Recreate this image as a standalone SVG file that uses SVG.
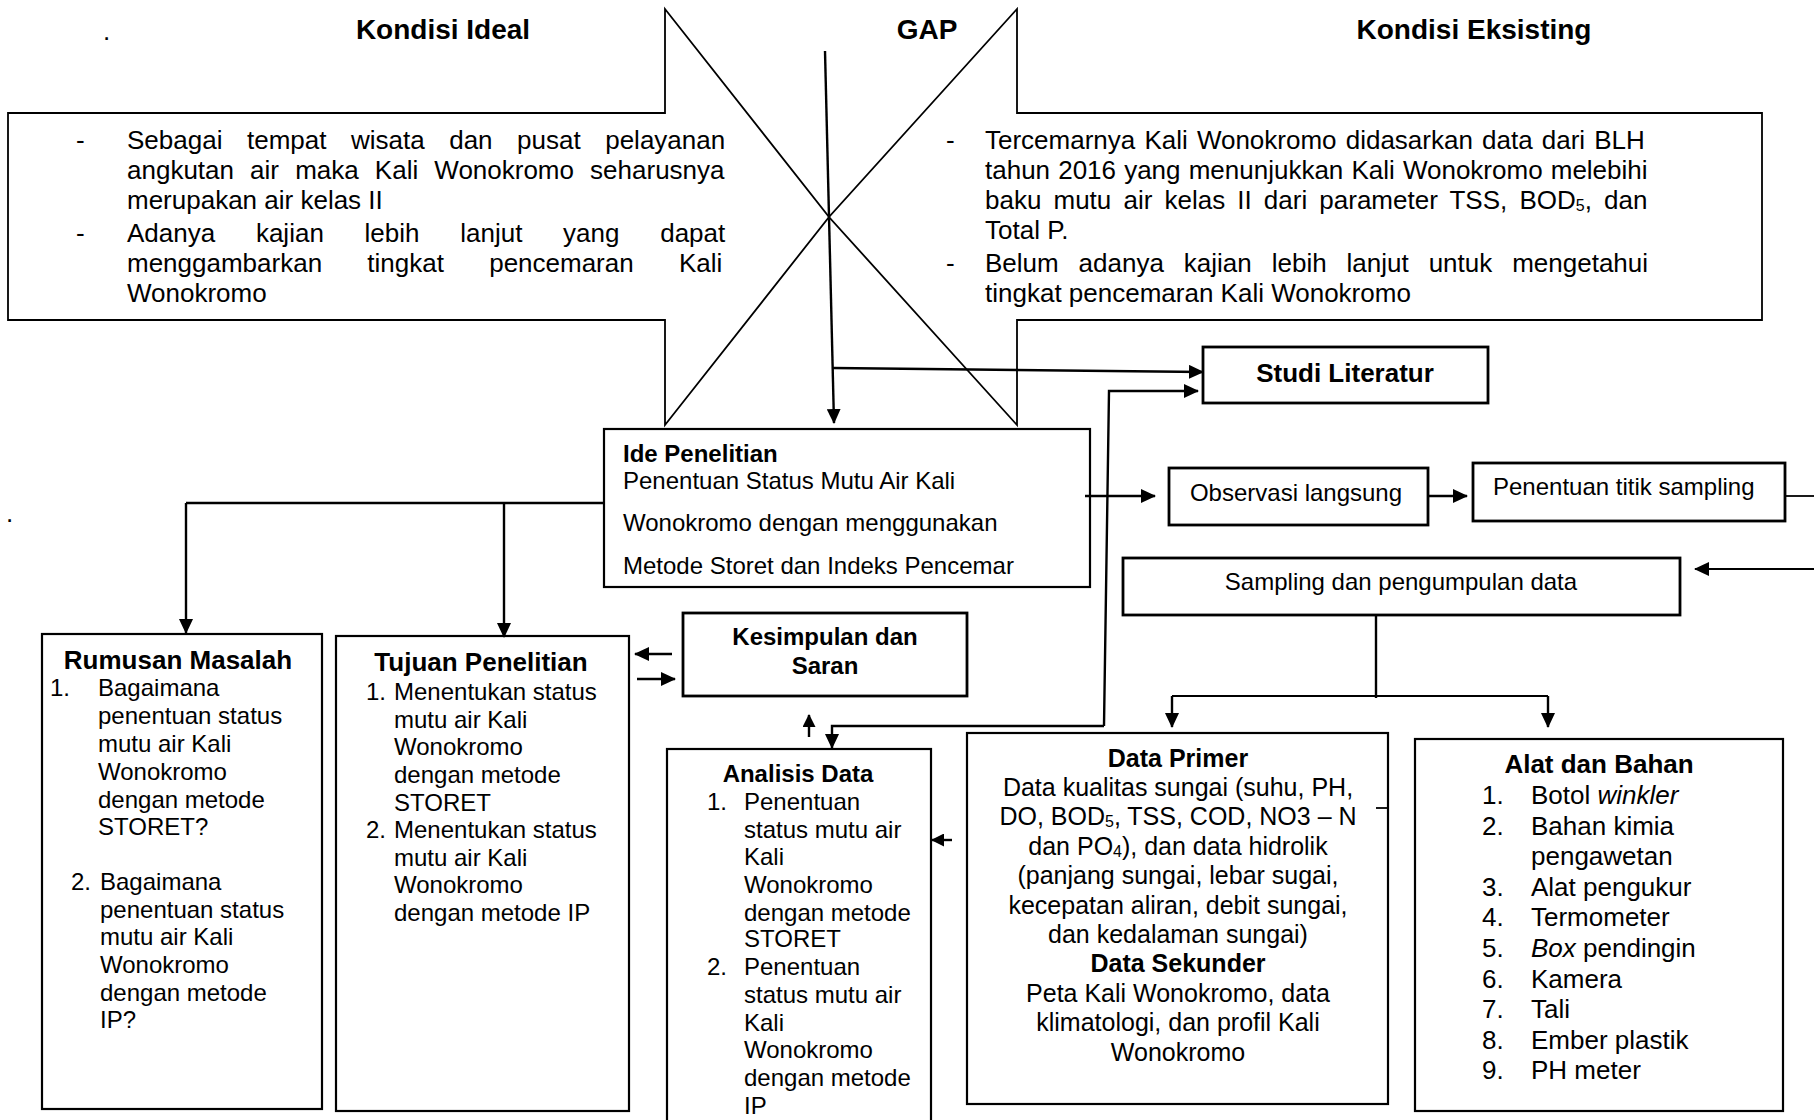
<svg xmlns="http://www.w3.org/2000/svg" width="1814" height="1120" viewBox="0 0 1814 1120">
<defs>
<style>
text{font-family:"Liberation Sans",Arial,Helvetica,sans-serif;fill:#000}
.b{font-weight:bold}
.f24{font-size:24px}.f25{font-size:25px}.f26{font-size:26px}.f28{font-size:28px}
.c{text-anchor:middle}
.box{fill:#fff;stroke:#000;stroke-width:2.2}
.thick{stroke-width:2.8}
.shape{fill:none;stroke:#000;stroke-width:1.8;stroke-linejoin:miter}
.con{fill:none;stroke:#000;stroke-width:2.4}
.thin{stroke-width:1.8}
.arr{marker-end:url(#ah)}
.arrs{marker-end:url(#ahs)}
.sub{font-size:16px}
</style>
<marker id="ah" viewBox="0 0 15 14" refX="14" refY="7" markerWidth="15" markerHeight="14" markerUnits="userSpaceOnUse" orient="auto"><path d="M0,0 L15,7 L0,14 Z" fill="#000"/></marker>
<marker id="ahs" viewBox="0 0 13 13" refX="12" refY="6.5" markerWidth="13" markerHeight="13" markerUnits="userSpaceOnUse" orient="auto"><path d="M0,0 L13,6.5 L0,13 Z" fill="#000"/></marker>
</defs>
<rect width="1814" height="1120" fill="#fff"/>

<text class="f26" x="103" y="40">.</text>
<text class="f26" x="6" y="522">.</text>

<g id="kondisi-ideal">
<path class="shape" d="M665,9 L665,113 L8,113 L8,320 L665,320 L665,425 L829,217 Z"/>
<text class="f28 b c" x="443" y="39">Kondisi Ideal</text>
<text class="f26" x="76" y="149">-</text>
<text class="f26" x="127" y="149" word-spacing="17.3">Sebagai tempat wisata dan pusat pelayanan</text>
<text class="f26" x="127" y="179" word-spacing="8.9">angkutan air maka Kali Wonokromo seharusnya</text>
<text class="f26" x="127" y="209">merupakan air kelas II</text>
<text class="f26" x="76" y="242">-</text>
<text class="f26" x="127" y="242" word-spacing="33.5">Adanya kajian lebih lanjut yang dapat</text>
<text class="f26" x="127" y="272" word-spacing="38">menggambarkan tingkat pencemaran Kali</text>
<text class="f26" x="127" y="302">Wonokromo</text>
</g>

<g id="gap">
<text class="f28 b c" x="927" y="39">GAP</text>
</g>

<g id="kondisi-eksisting">
<path class="shape" d="M1017,9 L1017,113 L1762,113 L1762,320 L1017,320 L1017,425 L829,217 Z"/>
<text class="f28 b c" x="1474" y="39">Kondisi Eksisting</text>
<text class="f26" x="946" y="149">-</text>
<text class="f26" x="985" y="149" word-spacing="1.9">Tercemarnya Kali Wonokromo didasarkan data dari BLH</text>
<text class="f26" x="985" y="179" word-spacing="0.9">tahun 2016 yang menunjukkan Kali Wonokromo melebihi</text>
<text class="f26" x="985" y="209" word-spacing="4.9">baku mutu air kelas II dari parameter TSS, BOD<tspan class="sub" dy="2">5</tspan><tspan dy="-2">, dan</tspan></text>
<text class="f26" x="985" y="239">Total P.</text>
<text class="f26" x="946" y="272">-</text>
<text class="f26" x="985" y="272" word-spacing="12.7">Belum adanya kajian lebih lanjut untuk mengetahui</text>
<text class="f26" x="985" y="302">tingkat pencemaran Kali Wonokromo</text>
</g>

<g id="ide-penelitian">
<rect class="box" x="604" y="429" width="486" height="158"/>
<text class="f24 b" x="623" y="462">Ide Penelitian</text>
<text class="f24" x="623" y="489">Penentuan Status Mutu Air Kali</text>
<text class="f24" x="623" y="531">Wonokromo dengan menggunakan</text>
<text class="f24" x="623" y="574">Metode Storet dan Indeks Pencemar</text>
</g>

<g id="studi-literatur">
<rect class="box thick" x="1203" y="347" width="285" height="56"/>
<text class="f26 b c" x="1345" y="382">Studi Literatur</text>
</g>

<g id="observasi-langsung">
<rect class="box thick" x="1169" y="468" width="259" height="57"/>
<text class="f24 c" x="1296" y="501">Observasi langsung</text>
</g>

<g id="penentuan-titik-sampling">
<rect class="box thick" x="1473" y="463" width="312" height="58"/>
<text class="f24" x="1493" y="495">Penentuan titik sampling</text>
</g>

<g id="sampling-pengumpulan-data">
<rect class="box thick" x="1123" y="558" width="557" height="57"/>
<text class="f24 c" x="1401" y="590">Sampling dan pengumpulan data</text>
</g>

<g id="rumusan-masalah">
<rect class="box" x="42" y="634" width="280" height="475"/>
<text class="f26 b c" x="178" y="669">Rumusan Masalah</text>
<text class="f24" x="50" y="696">1.</text>
<text class="f24" x="98" y="696">Bagaimana</text>
<text class="f24" x="98" y="724">penentuan status</text>
<text class="f24" x="98" y="752">mutu air Kali</text>
<text class="f24" x="98" y="780">Wonokromo</text>
<text class="f24" x="98" y="808">dengan metode</text>
<text class="f24" x="98" y="835">STORET?</text>
<text class="f24" x="71" y="890">2.</text>
<text class="f24" x="100" y="890">Bagaimana</text>
<text class="f24" x="100" y="918">penentuan status</text>
<text class="f24" x="100" y="945">mutu air Kali</text>
<text class="f24" x="100" y="973">Wonokromo</text>
<text class="f24" x="100" y="1001">dengan metode</text>
<text class="f24" x="100" y="1028">IP?</text>
</g>

<g id="tujuan-penelitian">
<rect class="box" x="336" y="636" width="293" height="475"/>
<text class="f26 b c" x="481" y="671">Tujuan Penelitian</text>
<text class="f24" x="366" y="700">1.</text>
<text class="f24" x="394" y="700">Menentukan status</text>
<text class="f24" x="394" y="728">mutu air Kali</text>
<text class="f24" x="394" y="755">Wonokromo</text>
<text class="f24" x="394" y="783">dengan metode</text>
<text class="f24" x="394" y="811">STORET</text>
<text class="f24" x="366" y="838">2.</text>
<text class="f24" x="394" y="838">Menentukan status</text>
<text class="f24" x="394" y="866">mutu air Kali</text>
<text class="f24" x="394" y="893">Wonokromo</text>
<text class="f24" x="394" y="921">dengan metode IP</text>
</g>

<g id="kesimpulan-saran">
<rect class="box thick" x="683" y="613" width="284" height="83"/>
<text class="f24 b c" x="825" y="645">Kesimpulan dan</text>
<text class="f24 b c" x="825" y="674">Saran</text>
</g>

<g id="analisis-data">
<rect class="box" x="667" y="749" width="264" height="390"/>
<text class="f24 b c" x="798" y="782">Analisis Data</text>
<text class="f24" x="707" y="810">1.</text>
<text class="f24" x="744" y="810">Penentuan</text>
<text class="f24" x="744" y="838">status mutu air</text>
<text class="f24" x="744" y="865">Kali</text>
<text class="f24" x="744" y="893">Wonokromo</text>
<text class="f24" x="744" y="921">dengan metode</text>
<text class="f24" x="744" y="947">STORET</text>
<text class="f24" x="707" y="975">2.</text>
<text class="f24" x="744" y="975">Penentuan</text>
<text class="f24" x="744" y="1003">status mutu air</text>
<text class="f24" x="744" y="1031">Kali</text>
<text class="f24" x="744" y="1058">Wonokromo</text>
<text class="f24" x="744" y="1086">dengan metode</text>
<text class="f24" x="744" y="1114">IP</text>
</g>

<g id="data-primer-sekunder">
<rect class="box" x="967" y="733" width="421" height="371"/>
<text class="f25 b c" x="1178" y="767">Data Primer</text>
<text class="f25 c" x="1178" y="796">Data kualitas sungai (suhu, PH,</text>
<text class="f25 c" x="1178" y="825">DO, BOD<tspan class="sub" dy="2">5</tspan><tspan dy="-2">, TSS, COD, NO3 – N</tspan></text>
<text class="f25 c" x="1178" y="855">dan PO<tspan class="sub" dy="2">4</tspan><tspan dy="-2">), dan data hidrolik</tspan></text>
<text class="f25 c" x="1178" y="884">(panjang sungai, lebar sugai,</text>
<text class="f25 c" x="1178" y="914">kecepatan aliran, debit sungai,</text>
<text class="f25 c" x="1178" y="943">dan kedalaman sungai)</text>
<text class="f25 b c" x="1178" y="972">Data Sekunder</text>
<text class="f25 c" x="1178" y="1002">Peta Kali Wonokromo, data</text>
<text class="f25 c" x="1178" y="1031">klimatologi, dan profil Kali</text>
<text class="f25 c" x="1178" y="1061">Wonokromo</text>
</g>

<g id="alat-bahan">
<rect class="box" x="1415" y="739" width="368" height="372"/>
<text class="f26 b c" x="1599" y="773">Alat dan Bahan</text>
<text class="f26" x="1482" y="804">1.</text><text class="f26" x="1531" y="804">Botol <tspan font-style="italic">winkler</tspan></text>
<text class="f26" x="1482" y="835">2.</text><text class="f26" x="1531" y="835">Bahan kimia</text>
<text class="f26" x="1531" y="865">pengawetan</text>
<text class="f26" x="1482" y="896">3.</text><text class="f26" x="1531" y="896">Alat pengukur</text>
<text class="f26" x="1482" y="926">4.</text><text class="f26" x="1531" y="926">Termometer</text>
<text class="f26" x="1482" y="957">5.</text><text class="f26" x="1531" y="957"><tspan font-style="italic">Box</tspan> pendingin</text>
<text class="f26" x="1482" y="988">6.</text><text class="f26" x="1531" y="988">Kamera</text>
<text class="f26" x="1482" y="1018">7.</text><text class="f26" x="1531" y="1018">Tali</text>
<text class="f26" x="1482" y="1049">8.</text><text class="f26" x="1531" y="1049">Ember plastik</text>
<text class="f26" x="1482" y="1079">9.</text><text class="f26" x="1531" y="1079">PH meter</text>
</g>

<g id="connectors">
<path class="con arr" d="M825,51 L834,423"/>
<path class="con arr" d="M833,368 L1203,372"/>
<path class="con arr" d="M1104,726 L1109,391 L1198,391"/>
<path class="con arr" d="M1104,726 L832,726 L832,748"/>
<path class="con arr" d="M1085,496 L1155,496"/>
<path class="con arr" d="M1428,496 L1467,496"/>
<path class="con thin" d="M1785,496 L1814,496"/>
<path class="con thin arr" d="M1814,569 L1695,569"/>
<path class="con" d="M1376,615 L1376,698"/>
<path class="con thin" d="M1172,696 L1548,696"/>
<path class="con arr" d="M1172,696 L1172,727"/>
<path class="con arr" d="M1548,696 L1548,727"/>
<path class="con thin" d="M1376,808 L1388,808"/>
<path class="con arrs" d="M952,840 L932,840"/>
<path class="con" d="M604,503 L186,503"/>
<path class="con arr" d="M186,503 L186,633"/>
<path class="con arr" d="M504,503 L504,637"/>
<path class="con arr" d="M672,654 L635,654"/>
<path class="con arr" d="M637,679 L675,679"/>
<path class="con arrs" d="M809,737 L809,715"/>
</g>
</svg>
